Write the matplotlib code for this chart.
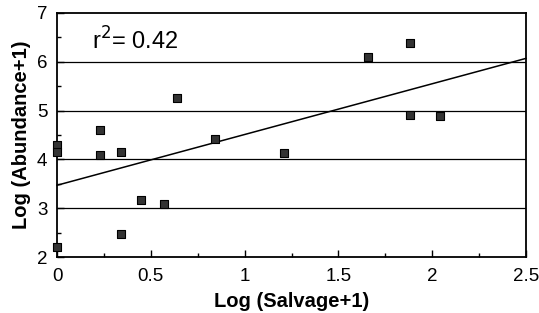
import numpy as np
import matplotlib
matplotlib.use('Agg')
from matplotlib import pyplot as plt
from matplotlib.ticker import MultipleLocator

plt.rcParams['font.family'] = ['Liberation Sans', 'DejaVu Sans']

# data
salvage = [0.0, 0.0, 0.0, 0.23, 0.23, 0.34, 0.34, 0.45, 0.57, 0.64, 0.84, 1.21, 1.66, 1.88, 1.88, 2.04]
abundance = [2.2, 4.3, 4.15, 4.6, 4.09, 4.15, 2.47, 3.17, 3.09, 5.26, 4.42, 4.13, 6.09, 6.38, 4.9, 4.89]
fit_intercept = 3.47
fit_slope = 1.04
r2_text = '0.42'

fig = plt.figure('scatter', figsize=(5.39, 3.13), dpi=100)
ax = fig.add_axes([0.1058, 0.1789, 0.8701, 0.7796])

ax.set_xlim(0, 2.5)
ax.set_ylim(2, 7)
for yy in [3, 4, 5, 6]:
    ax.axhline(yy, color='black', lw=0.9, zorder=1)

xs = np.array([0, 2.5])
ax.plot(xs, fit_intercept + fit_slope * xs, color='black', lw=1.1, zorder=2, clip_on=False)
ax.scatter(salvage, abundance, marker='s', s=34, c='#333333', edgecolors='black',
           linewidths=0.8, zorder=3, clip_on=False)

ax.xaxis.set_major_locator(MultipleLocator(0.5))
ax.xaxis.set_minor_locator(MultipleLocator(0.25))
ax.yaxis.set_major_locator(MultipleLocator(1))
ax.yaxis.set_minor_locator(MultipleLocator(0.5))
ax.tick_params(which='both', direction='in', top=False, right=False, labelsize=13.5)
ax.tick_params(which='major', length=5, width=1)
ax.tick_params(axis='x', which='major', pad=8)
ax.tick_params(axis='y', which='major', pad=7)
ax.tick_params(which='minor', length=3, width=1)
ax.set_xticks([0, 0.5, 1, 1.5, 2, 2.5], ['0', '0.5', '1', '1.5', '2', '2.5'])
for s in ax.spines.values():
    s.set_linewidth(1.3)

ax.set_xlabel('Log (Salvage+1)', fontsize=14.5, fontweight='bold', labelpad=5)
ax.set_ylabel('Log (Abundance+1)', fontsize=14.5, fontweight='bold', labelpad=4)
ax.text(0.075, 0.885, r'r$^2$= ' + r2_text, transform=ax.transAxes, fontsize=17,
        va='center', ha='left')

plt.savefig('out.png', dpi=100)
